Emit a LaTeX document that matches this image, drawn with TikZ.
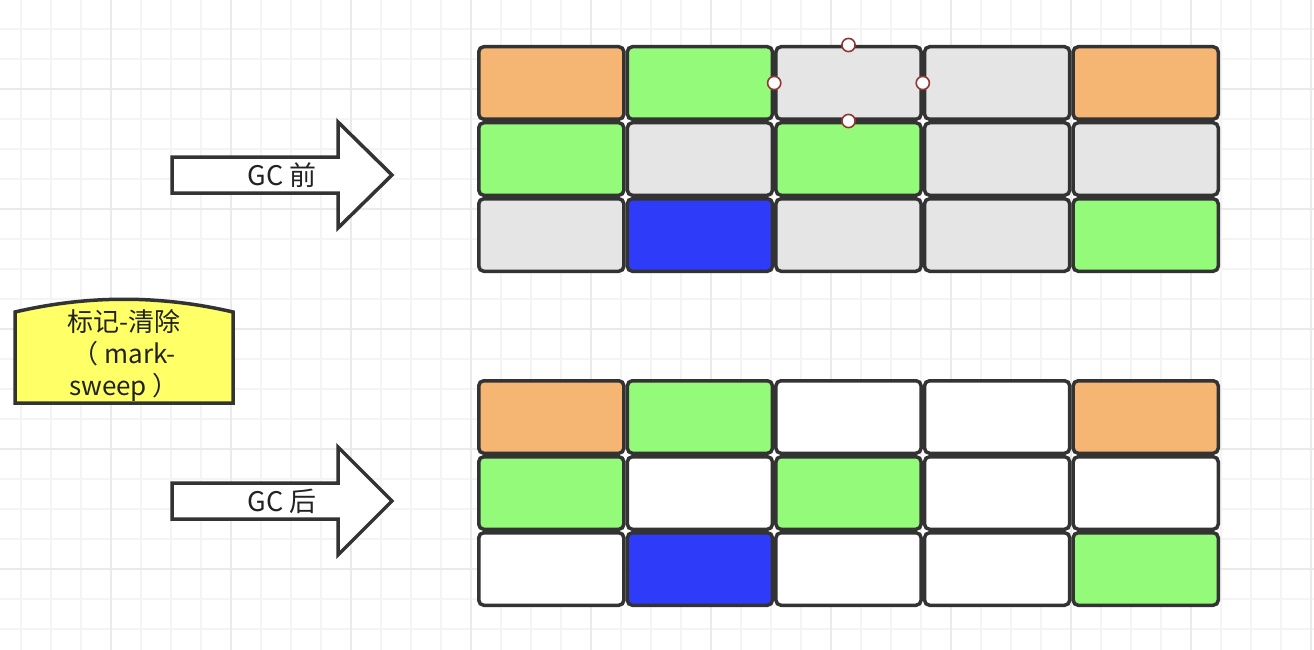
\documentclass[tikz,border=0pt]{standalone}
\usepackage{fontspec}
\setmainfont{Noto Sans CJK SC}
\usepackage{tikz}
\definecolor{gridminor}{HTML}{F4F4F4}
\definecolor{gridmajor}{HTML}{EAEAEA}
\definecolor{cellborder}{HTML}{333333}
\definecolor{textdark}{HTML}{222222}
\definecolor{memorange}{HTML}{F5B573}
\definecolor{memgreen}{HTML}{94FA79}
\definecolor{memgray}{HTML}{E5E5E5}
\definecolor{memblue}{HTML}{2E3CFA}
\definecolor{memyellow}{HTML}{FFFF66}
\definecolor{handlered}{HTML}{933535}
\tikzset{
	cell/.style={draw=cellborder, line width=3.5pt, rounded corners=5pt,
		minimum width=145.1pt, minimum height=72.5pt, inner sep=0pt},
	gcarrow/.style={draw=cellborder, fill=white, line width=3.5pt},
	methodbox/.style={draw=cellborder, fill=memyellow, line width=3.5pt},
	handle/.style={draw=handlered, fill=white, line width=1.6pt}
}

\begin{document}
\begin{tikzpicture}[x=1pt,y=-1pt]
		\tikzstyle{every node}=[font=\fontsize{26}{32}\selectfont, text=textdark]
		\useasboundingbox (0,0) rectangle (1314,650);
		\fill[white] (0,0) rectangle (1314,650);

		% Draw background grid
		\foreach \gx in {21,51,...,1311} \draw[gridminor, line width=1.5pt] (\gx,0) -- (\gx,650);
		\foreach \gy in {29,59,...,649} \draw[gridminor, line width=1.5pt] (0,\gy) -- (1314,\gy);
		\foreach \gx in {111,231,...,1311} \draw[gridmajor, line width=1.5pt] (\gx,0) -- (\gx,650);
		\foreach \gy in {89,209,...,569} \draw[gridmajor, line width=1.5pt] (0,\gy) -- (1314,\gy);

		% Draw method label
		\draw[methodbox] (15,403) -- (15,312) .. controls (88,295) and (160,295) .. (233,312) -- (233,403) -- cycle;
		\node[align=center] (method) at (124,355) {标记-清除\\（ mark-\\sweep ）};

		% -----------------------------------------------------
		% before GC
		\draw[gcarrow] (172,157) -- (338,157) -- (338,122) -- (392,175) -- (338,228) -- (338,193) -- (172,193) -- cycle;
		\node[font=\fontsize{27}{32}\selectfont] (gcbefore) at (282,175) {GC 前};

		\node[cell, fill=memorange] (b11) at (551.3,83) {};
		\node[cell, fill=memgreen] (b12) at (699.9,83) {};
		\node[cell, fill=memgray] (b13) at (848.5,83) {};
		\node[cell, fill=memgray] (b14) at (997.1,83) {};
		\node[cell, fill=memorange] (b15) at (1145.7,83) {};

		\node[cell, fill=memgreen] (b21) at (551.3,159) {};
		\node[cell, fill=memgray] (b22) at (699.9,159) {};
		\node[cell, fill=memgreen] (b23) at (848.5,159) {};
		\node[cell, fill=memgray] (b24) at (997.1,159) {};
		\node[cell, fill=memgray] (b25) at (1145.7,159) {};

		\node[cell, fill=memgray] (b31) at (551.3,235) {};
		\node[cell, fill=memblue] (b32) at (699.9,235) {};
		\node[cell, fill=memgray] (b33) at (848.5,235) {};
		\node[cell, fill=memgray] (b34) at (997.1,235) {};
		\node[cell, fill=memgreen] (b35) at (1145.7,235) {};

		% selection handles
		\filldraw[handle] (b13.north) circle (6.6pt);
		\filldraw[handle] (b13.west) circle (6.6pt);
		\filldraw[handle] (b13.east) circle (6.6pt);
		\filldraw[handle] (b13.south) circle (6.6pt);

		% -----------------------------------------------------
		% after GC
		\draw[gcarrow] (172,483) -- (338,483) -- (338,447) -- (392,501) -- (338,555) -- (338,519) -- (172,519) -- cycle;
		\node[font=\fontsize{27}{32}\selectfont] (gcafter) at (282,501) {GC 后};

		\node[cell, fill=memorange] (a11) at (551.3,417) {};
		\node[cell, fill=memgreen] (a12) at (699.9,417) {};
		\node[cell, fill=white] (a13) at (848.5,417) {};
		\node[cell, fill=white] (a14) at (997.1,417) {};
		\node[cell, fill=memorange] (a15) at (1145.7,417) {};

		\node[cell, fill=memgreen] (a21) at (551.3,493) {};
		\node[cell, fill=white] (a22) at (699.9,493) {};
		\node[cell, fill=memgreen] (a23) at (848.5,493) {};
		\node[cell, fill=white] (a24) at (997.1,493) {};
		\node[cell, fill=white] (a25) at (1145.7,493) {};

		\node[cell, fill=white] (a31) at (551.3,569) {};
		\node[cell, fill=memblue] (a32) at (699.9,569) {};
		\node[cell, fill=white] (a33) at (848.5,569) {};
		\node[cell, fill=white] (a34) at (997.1,569) {};
		\node[cell, fill=memgreen] (a35) at (1145.7,569) {};

\end{tikzpicture}
\end{document}
